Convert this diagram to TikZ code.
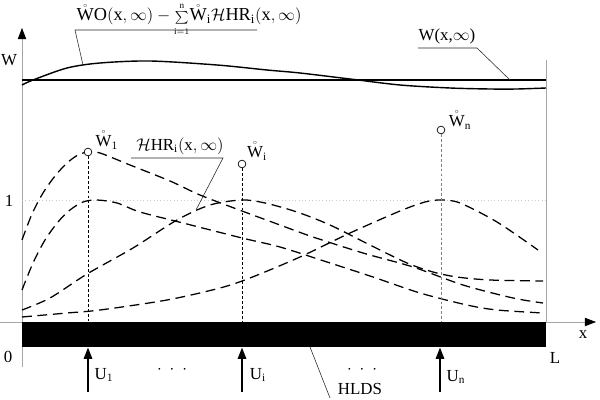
\documentclass[tikz,border=0pt]{standalone}
\usepackage{fontspec}
\setmainfont{Liberation Serif}
\usepackage{amsmath}
\usetikzlibrary{positioning,arrows.meta}

\begin{document}
\begin{tikzpicture}[x=0.025cm,y=-0.025cm,
every node/.style={font=\fontsize{12}{14}\selectfont,inner sep=1pt},
axis/.style={draw=gray!70,line width=0.5pt},
level/.style={draw=black,line width=1.2pt},
resp/.style={draw=black,line width=0.9pt,dash pattern=on 7pt off 4pt},
probe/.style={line width=0.5pt,dash pattern=on 2pt off 1.5pt},
leader/.style={draw=black!85,line width=0.4pt},
sensor/.style={draw=black,circle,fill=white,minimum size=5.5pt,inner sep=0pt,line width=0.5pt},
tip/.style={-{Triangle[width=6pt,length=8pt,color=black]}}]
\useasboundingbox (0,0) rectangle (600,400);

% axes and frame
\coordinate (ybot) at (22,367);
\coordinate (ytop) at (22,28);
\coordinate (xbeg) at (0,322);
\coordinate (xtip) at (596,322);
\coordinate (rtop) at (546,60);
\coordinate (rbot) at (546,322);
\draw[axis,tip] (ybot) -- (ytop);
\draw[axis,tip] (xbeg) -- (xtip);
\draw[axis] (rtop) -- (rbot);
\coordinate (oneL) at (22,200);
\coordinate (oneR) at (546,200);
\draw[gray!40,dotted,line width=0.4pt] (oneL) -- (oneR);

\node (wax) at (9,60) {W};
\node (one) at (9,201) {1};
\node (zero) at (8,357) {0};
\node (xax) at (583,335) {x};
\node (lend) at (555,358) {L};

% the plate
\node (bar) [fill=black,inner sep=0pt,anchor=north west,
    minimum width=13.1cm,minimum height=0.625cm] at (22,322) {};

% steady state profiles
\coordinate (wl) at (22,80);
\coordinate (wr) at (546,80);
\draw[level] (wl) -- (wr);
\draw[level,line width=1pt] plot[smooth] coordinates {(22,85) (33,80) (67,68) (100,63)
  (150,61) (217,65) (267,70) (300,73) (350,79) (400,85) (450,88) (490,89) (517,89) (546,88)};

% responses
\draw[resp] plot[smooth] coordinates {(22,240) (32,214) (43,193) (55,176) (67,163)
  (78,155) (88,152) (100,153) (130,165) (170,181) (200,195) (242,211) (280,225)
  (313,237) (363,253) (413,267) (463,285) (513,298) (543,303)};
\draw[resp] plot[smooth] coordinates {(22,290) (33,263) (45,240) (58,222) (70,210)
  (83,202) (97,200) (117,203) (140,212) (183,223) (242,238) (280,247) (327,262)
  (373,277) (420,293) (467,305) (497,310) (543,313)};
\draw[resp] plot[smooth] coordinates {(22,310) (50,298) (87,274) (133,248) (177,220)
  (210,205) (242,200) (265,203) (297,212) (330,225) (370,245) (407,263) (433,272)
  (457,277) (490,280) (543,281)};
\draw[resp] plot[smooth] coordinates {(22,317) (67,313) (100,310) (167,300) (220,288)
  (250,278) (300,257) (350,233) (400,211) (425,202) (441,200) (460,203) (497,222) (538,250)};

% sensors
\node (s1) [sensor] at (88,152) {};
\node (si) [sensor] at (242,164) {};
\node (sn) [sensor] at (441,130) {};
\draw[probe] (s1.south) -- (s1 |- bar.north);
\draw[probe] (si.south) -- (si |- bar.north);
\draw[probe,gray] (sn.south) -- (sn |- bar.north);
\node (w1) at (107,140) {$\mathring{\mathrm{W}}_1$};
\node (wi) at (257,151) {$\mathring{\mathrm{W}}_{\mathrm{i}}$};
\node (wn) at (460,120) {$\mathring{\mathrm{W}}_{\mathrm{n}}$};

% actuators
\coordinate (a1) at (88,392);
\coordinate (ai) at (242,392);
\coordinate (an) at (440,392);
\draw[tip,line width=1.2pt] (a1) -- (a1 |- bar.south);
\draw[tip,line width=1.2pt] (ai) -- (ai |- bar.south);
\draw[tip,line width=1.2pt] (an) -- (an |- bar.south);
\node (u1) at (104,375) {U$_1$};
\node (ui) at (258,375) {U$_{\mathrm{i}}$};
\node (un) at (456,377) {U$_{\mathrm{n}}$};
\node (dotsa) at (172,370) {$\cdot\ \cdot\ \cdot$};
\node (dotsb) at (362,370) {$\cdot\ \cdot\ \cdot$};

% labels with leaders
\node (wo) [anchor=base west,font=\fontsize{13}{15}\selectfont] at (75,21)
    {$\mathring{\mathrm{W}}\mathrm{O}(\mathrm{x},\infty)-
    \underset{\scriptscriptstyle\mathrm{i}=1}{\overset{\scriptscriptstyle\mathrm{n}}{\scriptstyle\sum}}
    \mathring{\mathrm{W}}_{\mathrm{i}}\mathcal{H}\mathrm{HR}_{\mathrm{i}}(\mathrm{x},\infty)$};
\coordinate (woL) at (75,30);
\coordinate (woR) at (257,30);
\coordinate (woC) at (83,65);
\draw[leader] (woR) -- (woL) -- (woC);

\node (wss) at (447,36) {W(x,$\infty$)};
\coordinate (wssL) at (418,48);
\coordinate (wssR) at (477,48);
\coordinate (wssC) at (510,80);
\draw[leader] (wssL) -- (wssR) -- (wssC);

\node (hr) at (180,146) {$\mathcal{H}\mathrm{HR}_{\mathrm{i}}(\mathrm{x},\infty)$};
\coordinate (hrL) at (131,158);
\coordinate (hrR) at (223,158);
\coordinate (hrC) at (196,210);
\draw[leader] (hrL) -- (hrR) -- (hrC);

\node (hlds) at (360,389) {HLDS};
\coordinate (hldsT) at (310,347);
\coordinate (hldsB) at (330,398);
\draw[leader] (hldsT) -- (hldsB);
\end{tikzpicture}
\end{document}
